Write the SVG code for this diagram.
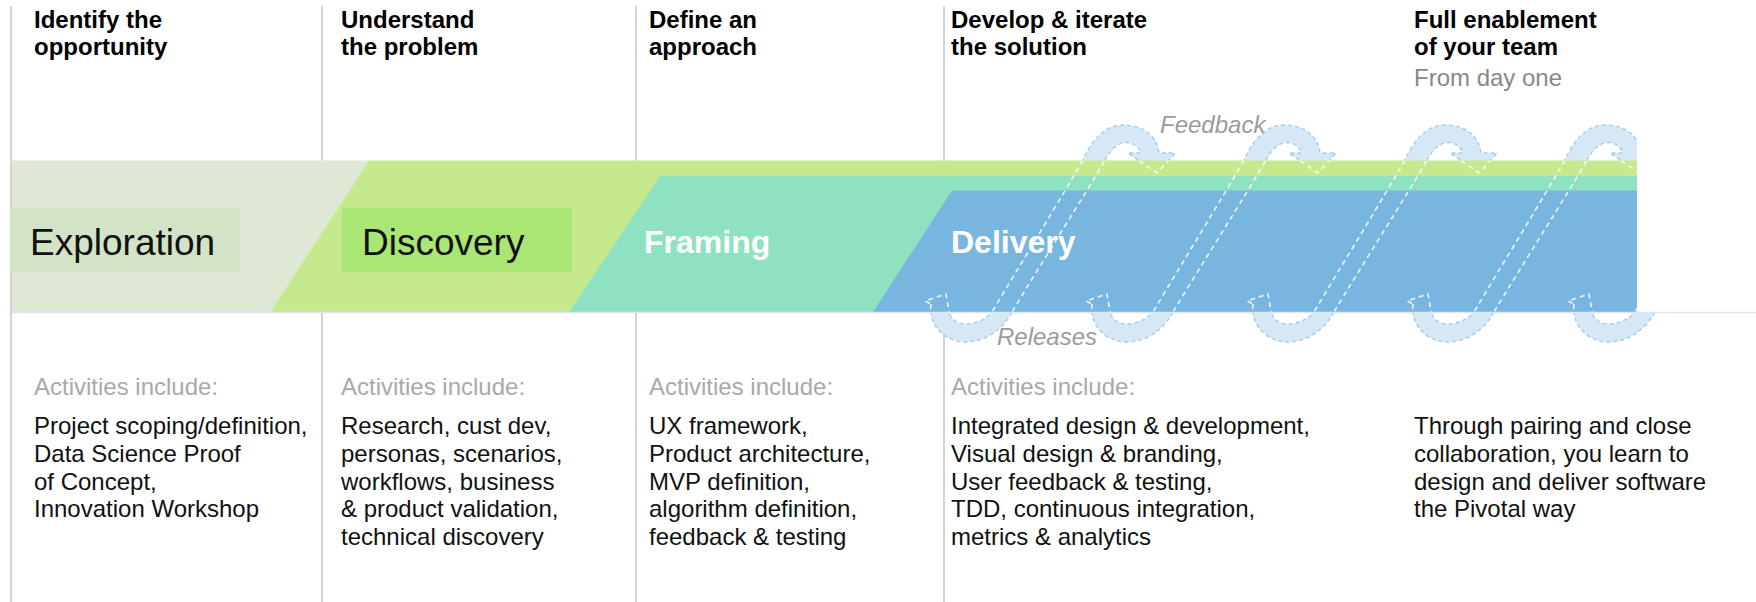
<svg xmlns="http://www.w3.org/2000/svg" xmlns:xlink="http://www.w3.org/1999/xlink" width="1756" height="602" viewBox="0 0 1756 602">
<style>
text{font-family:"Liberation Sans",Arial,Helvetica,sans-serif}
.head{font-size:24px;font-weight:bold;fill:#000}
.sub{font-size:24px;fill:#888}
.act{font-size:24px;fill:#a9a9a9}
.body{font-size:24px;fill:#111}
.big{font-size:37px;fill:#111}
.bigw{font-size:32px;font-weight:bold;fill:#fff}
.loopl{font-size:24px;font-style:italic;fill:#9b9b9b}
.vline{stroke:#d3d3d3;stroke-width:2}
.ribbon{fill:#d6e8f5;stroke:#a6cbe8;stroke-width:1.4;stroke-dasharray:4 3}
.ribbonw{fill:none;stroke:#ffffff;stroke-width:1.6;stroke-dasharray:5 4;opacity:0.85}
</style>
<defs>
<path id="coil" d="M 931,304 C 928,326 946,342 965,342 C 986,342 1003,329 1012,312 C 1040,265 1085,195 1105,160 C 1111,149 1118,142.5 1126,142.5 C 1133,142.5 1139,147 1141,153 L 1128,153 L 1157,173 L 1175,153 L 1159,153 C 1157,135 1142,125 1123,125 C 1104,125 1091,142 1083,160 C 1063,195 1020,265 992,312 C 985,320 975,324 966,324 C 957,324 950,319 949,311 L 946,294 L 925,301 Z"/>
<clipPath id="outerClip">
<rect x="0" y="0" width="1637" height="312"/>
<rect x="0" y="312" width="1756" height="290"/>
</clipPath>
<clipPath id="bandClip">
<rect x="12" y="160.5" width="1625" height="151.5"/>
</clipPath>
</defs>

<g id="dividers">
<line class="vline" x1="11" y1="6" x2="11" y2="602"/>
<line class="vline" x1="322" y1="6" x2="322" y2="602"/>
<line class="vline" x1="636" y1="6" x2="636" y2="602"/>
<line class="vline" x1="944" y1="6" x2="944" y2="602"/>
</g>

<g id="connectors">
<g id="loops-back" clip-path="url(#outerClip)">
<use xlink:href="#coil" class="ribbon"/>
<use xlink:href="#coil" class="ribbon" transform="translate(161,0)"/>
<use xlink:href="#coil" class="ribbon" transform="translate(322,0)"/>
<use xlink:href="#coil" class="ribbon" transform="translate(482,0)"/>
<use xlink:href="#coil" class="ribbon" transform="translate(643,0)"/>
</g>
</g>

<g id="exploration">
<polygon points="12,160.5 369,160.5 270,312 12,312" fill="#dfe8d4"/>
<rect x="10" y="208" width="230" height="64" fill="#d4e3c6"/>
<text class="big" x="30" y="255">Exploration</text>
<text class="head" x="34" y="28">Identify the</text>
<text class="head" x="34" y="55">opportunity</text>
<text class="act" x="34" y="395">Activities include:</text>
<text class="body" x="34" y="434">Project scoping/definition,</text>
<text class="body" x="34" y="462">Data Science Proof</text>
<text class="body" x="34" y="490">of Concept,</text>
<text class="body" x="34" y="517">Innovation Workshop</text>
</g>

<g id="discovery">
<polygon points="369,160.5 1637,160.5 1637,312 270,312" fill="#c6e98e"/>
<rect x="342" y="208" width="230" height="64" fill="#a9e673"/>
<text class="big" x="362" y="255">Discovery</text>
<text class="head" x="341" y="28">Understand</text>
<text class="head" x="341" y="55">the problem</text>
<text class="act" x="341" y="395">Activities include:</text>
<text class="body" x="341" y="434">Research, cust dev,</text>
<text class="body" x="341" y="462">personas, scenarios,</text>
<text class="body" x="341" y="490">workflows, business</text>
<text class="body" x="341" y="517">&amp; product validation,</text>
<text class="body" x="341" y="545">technical discovery</text>
</g>

<g id="framing">
<polygon points="660,176 1637,176 1637,312 569,312" fill="#8ee2c2"/>
<text class="bigw" x="644" y="253">Framing</text>
<text class="head" x="649" y="28">Define an</text>
<text class="head" x="649" y="55">approach</text>
<text class="act" x="649" y="395">Activities include:</text>
<text class="body" x="649" y="434">UX framework,</text>
<text class="body" x="649" y="462">Product architecture,</text>
<text class="body" x="649" y="490">MVP definition,</text>
<text class="body" x="649" y="517">algorithm definition,</text>
<text class="body" x="649" y="545">feedback &amp; testing</text>
</g>

<g id="delivery">
<polygon points="952,190.5 1637,190.5 1637,312 873,312" fill="#78b6e0"/>
<text class="bigw" x="951" y="253">Delivery</text>
<text class="head" x="951" y="28">Develop &amp; iterate</text>
<text class="head" x="951" y="55">the solution</text>
<text class="act" x="951" y="395">Activities include:</text>
<text class="body" x="951" y="434">Integrated design &amp; development,</text>
<text class="body" x="951" y="462">Visual design &amp; branding,</text>
<text class="body" x="951" y="490">User feedback &amp; testing,</text>
<text class="body" x="951" y="517">TDD, continuous integration,</text>
<text class="body" x="951" y="545">metrics &amp; analytics</text>
</g>

<g id="loops-front" clip-path="url(#bandClip)">
<use xlink:href="#coil" class="ribbonw"/>
<use xlink:href="#coil" class="ribbonw" transform="translate(161,0)"/>
<use xlink:href="#coil" class="ribbonw" transform="translate(322,0)"/>
<use xlink:href="#coil" class="ribbonw" transform="translate(482,0)"/>
<use xlink:href="#coil" class="ribbonw" transform="translate(643,0)"/>
</g>

<g id="baseline">
<line x1="12" y1="312.5" x2="1756" y2="312.5" stroke="#d8e8f4" stroke-width="1.5"/>
</g>

<g id="loop-labels">
<text class="loopl" x="1160" y="133">Feedback</text>
<text class="loopl" x="997" y="345">Releases</text>
</g>

<g id="enablement">
<text class="head" x="1414" y="28">Full enablement</text>
<text class="head" x="1414" y="55">of your team</text>
<text class="sub" x="1414" y="86">From day one</text>
<text class="body" x="1414" y="434">Through pairing and close</text>
<text class="body" x="1414" y="462">collaboration, you learn to</text>
<text class="body" x="1414" y="490">design and deliver software</text>
<text class="body" x="1414" y="517">the Pivotal way</text>
</g>
</svg>
